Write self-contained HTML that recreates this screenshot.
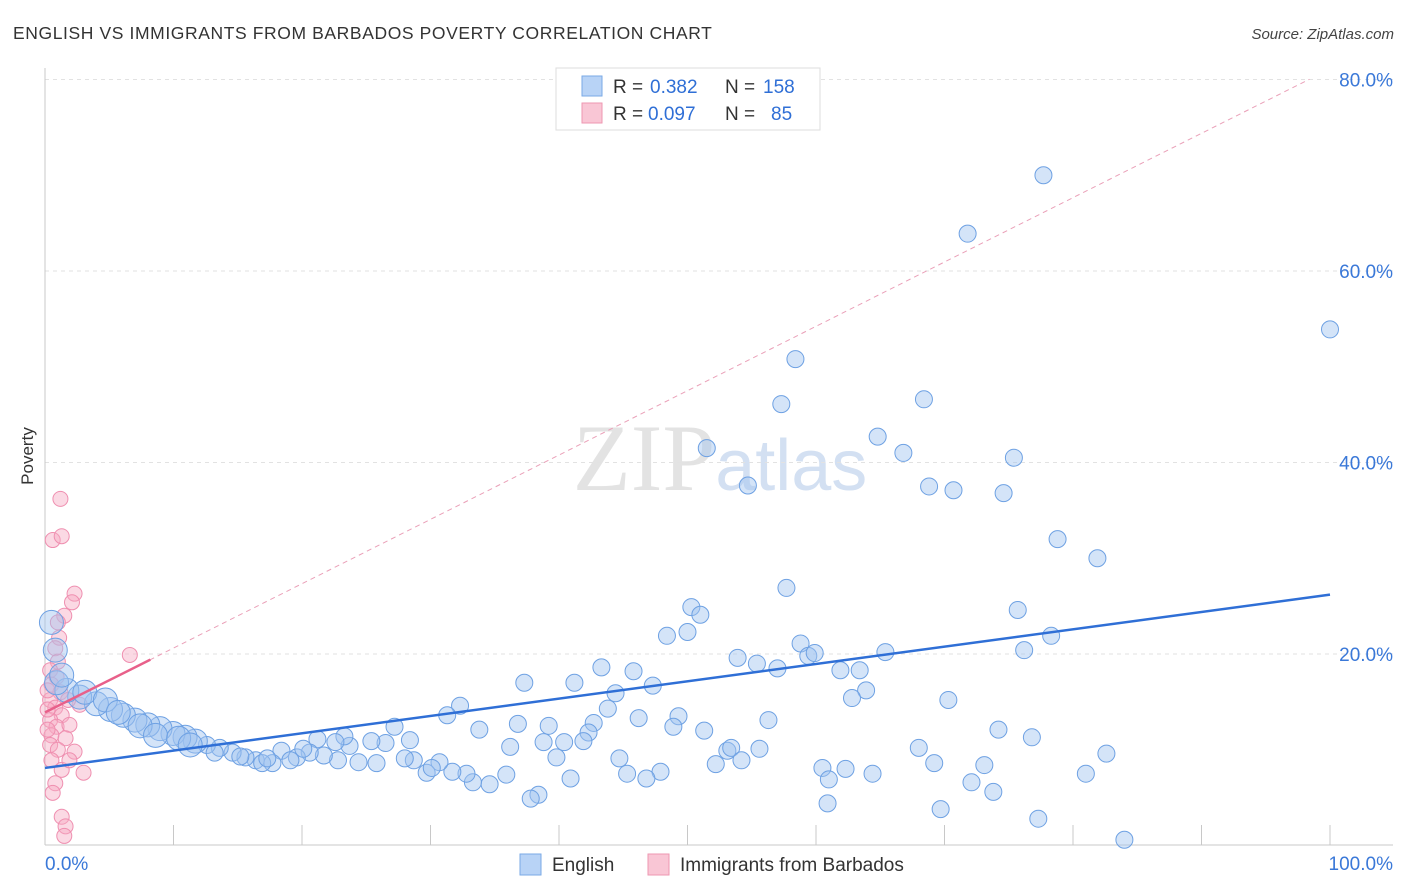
<!DOCTYPE html>
<html><head><meta charset="utf-8"><style>
body{margin:0;background:#fff;font-family:"Liberation Sans",sans-serif}
svg{display:block}
</style></head><body>
<svg id="chart" width="1406" height="892" viewBox="0 0 1406 892" xmlns="http://www.w3.org/2000/svg">
<text x="13" y="39" font-size="17.5" letter-spacing="0.6" fill="#333">ENGLISH VS IMMIGRANTS FROM BARBADOS POVERTY CORRELATION CHART</text>
<text x="1394" y="39" font-size="15" fill="#444" text-anchor="end" font-style="italic">Source: ZipAtlas.com</text>
<text x="720" y="490" font-size="95" text-anchor="middle" font-family="Liberation Serif" fill="#ddd" opacity="0.8">ZIP<tspan fill="#c9d9ef" font-family="Liberation Sans" font-size="72">atlas</tspan></text>
<text transform="translate(33,456) rotate(-90)" font-size="17" fill="#333" text-anchor="middle">Poverty</text>
<g id="grid"></g><g id="axes"></g><g id="pink"></g><g id="blue"></g><g id="lines"></g>
<g>
<rect x="556" y="68" width="264" height="62" fill="#fff" stroke="#ddd"/>
<rect x="582" y="76" width="20" height="20" fill="#b8d3f6" stroke="#7aaae6"/>
<rect x="582" y="103" width="20" height="20" fill="#f9c6d5" stroke="#ee97b1"/>
<text x="613" y="93" font-size="19" fill="#333">R =</text>
<text x="650" y="93" font-size="19" fill="#2f6fd6">0.382</text>
<text x="725" y="93" font-size="19" fill="#333">N =</text>
<text x="763" y="93" font-size="19" fill="#2f6fd6">158</text>
<text x="613" y="120" font-size="19" fill="#333">R =</text>
<text x="648" y="120" font-size="19" fill="#2f6fd6">0.097</text>
<text x="725" y="120" font-size="19" fill="#333">N =</text>
<text x="771" y="120" font-size="19" fill="#2f6fd6">85</text>
</g>
<g>
<rect x="520" y="854" width="21" height="21" fill="#b8d3f6" stroke="#7aaae6"/>
<text x="552" y="871" font-size="19" fill="#333">English</text>
<rect x="648" y="854" width="21" height="21" fill="#f9c6d5" stroke="#ee97b1"/>
<text x="680" y="871" font-size="19" fill="#333">Immigrants from Barbados</text>
</g>
</svg>
<script>
const blueX=[77.7,71.8,100,58.4,57.3,68.4,64.8,51.5,66.8,75.4,54.7,68.8,70.7,74.6,78.8,81.9,57.7,50.3,51.0,75.7,48.4,50.0,58.8,78.3,76.2,59.4,59.9,65.4,53.9,55.4,57.0,61.9,63.4,45.8,43.3,41.2,44.4,47.3,63.9,62.8,70.3,37.3,32.3,31.3,43.8,49.3,42.7,46.2,56.3,36.8,27.2,39.2,33.8,48.9,51.3,74.2,76.8,42.3,41.9,38.8,40.4,36.2,53.1,53.4,55.6,68.0,82.6,39.8,44.7,54.2,52.2,69.2,73.1,60.5,62.3,64.4,45.3,47.9,46.8,40.9,61.0,81.0,72.1,73.8,60.9,69.7,77.3,84.0,38.4,37.8,35.9,34.6,33.3,32.8,31.7,30.7,29.7,30.1,28.7,28.0,28.4,26.5,25.4,23.7,23.3,22.6,21.2,25.8,24.4,22.8,21.7,20.6,19.6,18.4,19.1,17.7,16.4,16.9,15.6,14.6,13.6,12.6,11.7,10.9,9.96,8.95,8.0,7.0,6.1,5.1,4.0,2.7,1.7,0.9,0.5,0.8,1.3,3.1,4.7,5.7,7.4,8.6,10.4,11.3,13.2,15.2,17.3,20.1];
const blueY=[70.0,63.9,53.9,50.8,46.1,46.6,42.7,41.5,41.0,40.5,37.6,37.5,37.1,36.8,32.0,30.0,26.9,24.9,24.1,24.6,21.9,22.3,21.1,21.9,20.4,19.8,20.1,20.2,19.6,19.0,18.5,18.3,18.3,18.2,18.6,17.0,15.9,16.7,16.2,15.4,15.2,17.0,14.6,13.6,14.3,13.5,12.8,13.3,13.1,12.7,12.4,12.5,12.1,12.4,12.0,12.1,11.3,11.8,10.9,10.8,10.8,10.3,9.9,10.2,10.1,10.2,9.6,9.2,9.1,8.9,8.5,8.6,8.4,8.1,8.0,7.5,7.5,7.7,7.0,7.0,6.9,7.5,6.6,5.6,4.4,3.8,2.8,0.6,5.3,4.9,7.4,6.4,6.6,7.5,7.7,8.7,7.6,8.1,8.9,9.1,11.0,10.7,10.9,10.4,11.4,10.8,11.1,8.6,8.7,8.9,9.4,9.7,9.2,9.9,8.9,8.6,8.9,8.6,9.2,9.7,10.2,10.5,10.9,11.3,11.7,12.2,12.6,13.1,13.6,14.2,14.8,15.5,16.2,17.0,23.3,20.4,17.8,16.0,15.2,13.9,12.5,11.5,11.2,10.5,9.7,9.3,9.1,10.1];
const pinkX=[1.2,0.6,1.3,2.3,2.1,1.5,1.0,1.1,6.6,0.8,1.0,0.4,0.9,0.5,1.2,0.4,0.8,1.3,0.4,0.9,1.9,0.5,1.6,0.4,1.0,2.3,0.5,1.3,3.0,0.8,0.6,1.3,1.6,1.5,2.7,0.2,0.2,0.2,1.8,1.9];
const pinkY=[36.2,31.9,32.3,26.3,25.4,24.0,23.3,21.7,19.9,20.6,19.2,18.3,17.6,16.8,16.0,15.2,14.4,13.6,13.1,12.4,12.6,11.5,11.2,10.5,10.0,9.8,8.9,7.9,7.6,6.5,5.5,3.0,2.0,1.0,14.7,16.2,14.2,12.1,15.2,8.9];
const blueTrend=[8.1,26.2];
const pinkTrend=[13.9,0.672];
const yTicks=[20,40,60,80];
const yTickLabels=["20.0%","40.0%","60.0%","80.0%"];
const xTicks=[0,10,20,30,40,50,60,70,80,90,100];
const NS="http://www.w3.org/2000/svg";
const sx=v=>45+v*12.85, sy=v=>845.5-v*9.575;
function mk(parent,tag,attrs){const e=document.createElementNS(NS,tag);for(const k in attrs)e.setAttribute(k,attrs[k]);document.getElementById(parent).appendChild(e);return e;}
yTicks.forEach((t,i)=>{
 const g=mk('grid','line',{x1:45,x2:1393,y1:sy(t),y2:sy(t),stroke:'#e2e2e2','stroke-dasharray':'4,4'});
 
 
 const l=mk('grid','text',{x:1393,y:sy(t)+7,'font-size':19,fill:'#3a78d8','text-anchor':'end'});
 l.textContent=yTickLabels[i];
 
 
});
const ax=mk('axes','line',{x1:45,x2:45,y1:68,y2:845,stroke:'#c8c8c8'});


const bx=mk('axes','line',{x1:45,x2:1393,y1:845,y2:845,stroke:'#c8c8c8'});


xTicks.forEach(t=>{const k=mk('axes','line',{x1:sx(t),x2:sx(t),y1:825,y2:845,stroke:'#c8c8c8'});
 
 });
const x0=mk('axes','text',{x:45,y:870,'font-size':19,fill:'#3a78d8'});x0.textContent='0.0%';


const x1=mk('axes','text',{x:1393,y:870,'font-size':19,fill:'#3a78d8','text-anchor':'end'});x1.textContent='100.0%';


pinkX.forEach((v,i)=>{const c=mk('pink','circle',{cx:sx(v),cy:sy(pinkY[i]),r:7.5,fill:'rgba(246,170,195,0.45)',stroke:'#ef8fb0','stroke-width':1});
 
 });
blueX.forEach((v,i)=>{const r=v<12?12:8.5;const c=mk('blue','circle',{cx:sx(v),cy:sy(blueY[i]),r:r,fill:'rgba(160,196,240,0.45)',stroke:'#6ea1e3','stroke-width':1});
 
 });
const bl=mk('lines','line',{x1:sx(0),y1:sy(blueTrend[0]),x2:sx(100),y2:sy(blueTrend[1]),stroke:'#2f6fd6','stroke-width':2.5});


const pd=mk('lines','line',{x1:sx(0),y1:sy(pinkTrend[0]),x2:sx(98.4),y2:sy(pinkTrend[0]+pinkTrend[1]*98.4),stroke:'#eaa0b8','stroke-width':1,'stroke-dasharray':'5,4'});


const ps=mk('lines','line',{x1:sx(0),y1:sy(pinkTrend[0]),x2:sx(8.2),y2:sy(pinkTrend[0]+pinkTrend[1]*8.2),stroke:'#e8608a','stroke-width':2.5});


</script>
</body></html>
